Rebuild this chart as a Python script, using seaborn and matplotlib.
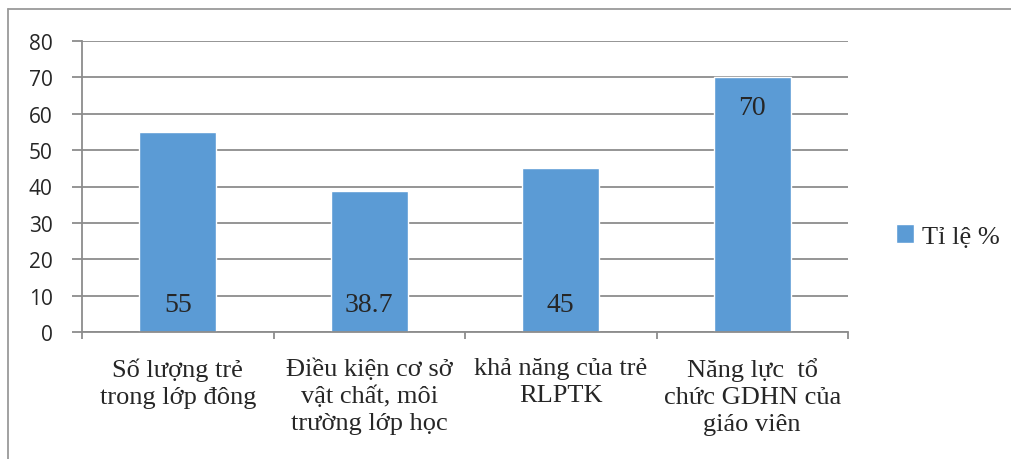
import pandas as pd
import matplotlib.pyplot as plt
from matplotlib.lines import Line2D
import seaborn as sns

# Data
categories = [
    "Số lượng trẻ\ntrong lớp đông",
    "Điều kiện cơ sở\nvật chất, môi\ntrường lớp học",
    "khả năng của trẻ\nRLPTK",
    "Năng lực  tổ\nchức GDHN của\ngiáo viên",
]
values = [55, 38.7, 45, 70]
value_labels = ["55", "38.7", "45", "70"]
label_at_top = [False, False, False, True]
series_name = "Tỉ lệ %"
y_ticks = [0, 10, 20, 30, 40, 50, 60, 70, 80]

bar_color = "#5B9BD5"
grid_color = "#8C8C8C"

df = pd.DataFrame({"cat": categories, "val": values})

sns.set_style("white")
plt.rcParams['font.family'] = ['Liberation Serif', 'DejaVu Serif']

fig = plt.figure(figsize=(10.12, 4.6), dpi=100)
ax = fig.add_axes([82 / 1012, 1 - 333 / 460, (848 - 82) / 1012, (333 - 42) / 460])

sns.barplot(data=df, x="cat", y="val", color=bar_color, width=0.4,
            saturation=1, ax=ax, label=series_name)

ax.set_ylim(0, 80)
ax.set_xlim(-0.5, len(categories) - 0.5)
ax.set_yticks(y_ticks)
ax.set_yticklabels([str(t) for t in y_ticks], fontfamily="Open Sans", fontsize=15)
ax.set_xticks(range(len(categories)))
ax.set_xticklabels(categories, fontsize=19, linespacing=1.3)
ax.set_xticks([i - 0.5 for i in range(len(categories) + 1)], minor=True)
ax.set_xlabel("")
ax.set_ylabel("")

ax.yaxis.grid(True, color=grid_color, linewidth=1.3)
ax.set_axisbelow(True)
for s in ["top", "right"]:
    ax.spines[s].set_visible(False)
for s in ["left", "bottom"]:
    ax.spines[s].set_color(grid_color)
    ax.spines[s].set_linewidth(1.3)

ax.tick_params(axis="y", which="major", length=7, width=1.3, color=grid_color,
               direction="out", pad=14, left=True)
ax.tick_params(axis="x", which="major", length=0, pad=18)
ax.tick_params(axis="x", which="minor", length=5, width=1.3, color=grid_color,
               direction="out", bottom=True)

# data labels
for i, (v, lab, top) in enumerate(zip(values, value_labels, label_at_top)):
    if top:
        ax.annotate(lab, (i, v), xytext=(0, -22), textcoords="offset points",
                    ha="center", va="center", fontsize=20)
    else:
        ax.annotate(lab, (i, 0), xytext=(0, 20), textcoords="offset points",
                    ha="center", va="center", fontsize=20)

# legend
handles, labels = ax.get_legend_handles_labels()
if ax.get_legend() is not None:
    ax.get_legend().remove()
fig.legend(handles, labels, loc="center left",
           bbox_to_anchor=(872 / 1012, 1 - 237 / 460), frameon=False,
           fontsize=19, handlelength=0.7, handleheight=0.7, handletextpad=0.3)

# outer border (top and left visible)
fig.add_artist(Line2D([8 / 1012, 1], [1 - 10 / 460, 1 - 10 / 460],
                      transform=fig.transFigure, color="#9A9A9A", linewidth=1.3))
fig.add_artist(Line2D([8 / 1012, 8 / 1012], [0, 1 - 10 / 460],
                      transform=fig.transFigure, color="#9A9A9A", linewidth=1.3))

fig.savefig("out.png", dpi=100, facecolor="white")
